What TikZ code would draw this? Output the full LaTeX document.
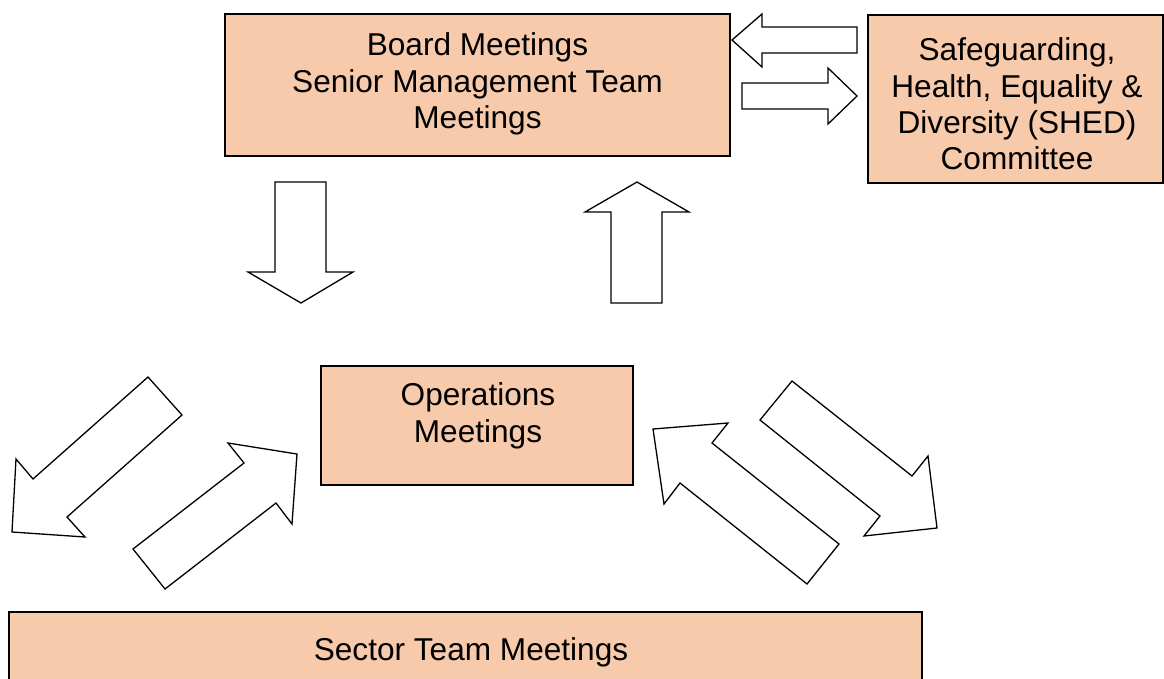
\documentclass[tikz,border=0pt]{standalone}
\usepackage{fontspec}
\setmainfont{Liberation Sans}
\definecolor{peach}{HTML}{F7CAAC}
\tikzset{
  box/.style={draw=black, fill=peach, line width=1.6pt, inner sep=0pt},
  txt/.style={align=center, inner sep=0pt, font=\fontsize{31.6}{36.4}\selectfont},
  blockarrow/.style={draw=black, fill=white, line width=1.3pt, line join=miter}
}
\begin{document}
\begin{tikzpicture}[x=1pt,y=-1pt]
\useasboundingbox (0,0) rectangle (1164,678);
\clip (0,0) rectangle (1164,678);
% boxes
\node[box, minimum width=505pt, minimum height=142pt] (board) at (477.5,85) {};
\node[txt] (boardtxt) at (477.5,84) {Board Meetings\\Senior Management Team\\Meetings};
\node[box, minimum width=295pt, minimum height=168pt] (shed) at (1015.5,99) {};
\node[txt] (shedtxt) at (1017,104) {Safeguarding,\\Health, Equality \&\\Diversity (SHED)\\Committee};
\node[box, minimum width=312pt, minimum height=119pt] (ops) at (477,425.5) {};
\node[txt] (opstxt) at (478,416) {Operations\\Meetings};
\node[box, minimum width=913pt, minimum height=80pt] (sector) at (465.5,652) {};
\node[txt] (sectortxt) at (471,652) {Sector Team Meetings};
% block arrows between board and SHED
\draw[blockarrow] (732,40) -- (762,14) -- (762,27) -- (857,27) -- (857,53) -- (762,53) -- (762,67) -- cycle;
\draw[blockarrow] (742,83) -- (828,83) -- (828,68) -- (857,96) -- (828,124) -- (828,109) -- (742,109) -- cycle;
% down and up arrows
\draw[blockarrow] (275,182) -- (326,182) -- (326,272) -- (353,272) -- (301,303) -- (248,272) -- (275,272) -- cycle;
\draw[blockarrow] (637,182) -- (689,212) -- (662,212) -- (662,303) -- (611,303) -- (611,212) -- (585,212) -- cycle;
% left diagonal pair
\draw[blockarrow] (148,377) -- (182,415) -- (67,517) -- (85,537) -- (12,532) -- (16,459) -- (33,479) -- cycle;
\draw[blockarrow] (133,549) -- (244,463) -- (228,443) -- (297,454) -- (292,524) -- (276,503) -- (165,589) -- cycle;
% right diagonal pair
\draw[blockarrow] (653,429) -- (728,423) -- (712,443) -- (839,544) -- (807,584) -- (680,483) -- (664,504) -- cycle;
\draw[blockarrow] (792,381) -- (912,476) -- (928,456) -- (937,528) -- (864,536) -- (880,516) -- (760,420) -- cycle;
\end{tikzpicture}
\end{document}
